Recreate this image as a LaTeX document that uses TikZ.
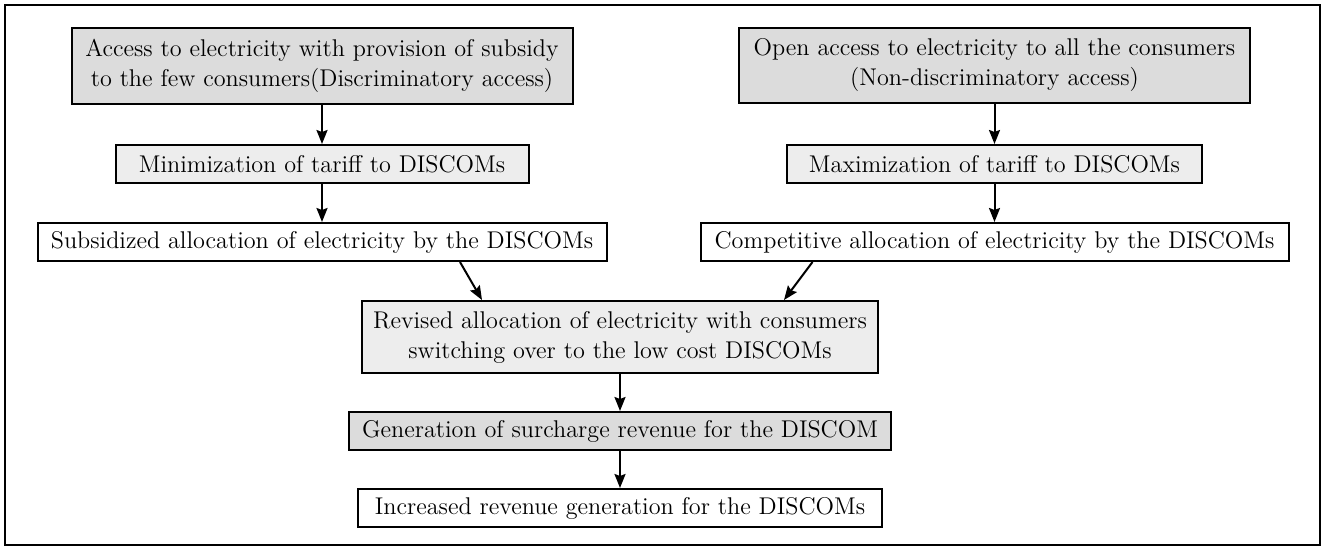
\documentclass[tikz,border=0pt]{standalone}
\usepackage{tikz}
\usetikzlibrary{arrows.meta,positioning,calc}
\definecolor{BoxDark}{HTML}{DCDCDC}
\definecolor{BoxLight}{HTML}{EDEDED}

\begin{document}
\begin{tikzpicture}[x=0.5pt,y=-0.5pt,
    box/.style={draw,line width=1pt,align=center,inner sep=0pt,
      minimum height=19pt,font=\fontsize{12.1}{15}\selectfont},
    dark/.style={box,fill=BoxDark},
    light/.style={box,fill=BoxLight},
    arr/.style={-{Stealth[length=7pt,width=5.5pt,inset=1pt]},line width=1pt}]
    \useasboundingbox (0,0) rectangle (1324,547);
    \draw[line width=1.4pt] (5,5) rectangle (1320,545);

    % left branch
    \node[dark,minimum width=250.5pt,minimum height=38pt] (acc) at (322,66)
      {Access to electricity with provision of subsidy\\
       to the few consumers(Discriminatory access)};
    \node[light,minimum width=206.5pt] (mintar) at (322,164)
      {Minimization of tariff to DISCOMs};
    \node[box,fill=white,minimum width=284.5pt] (subal) at (322,242)
      {Subsidized allocation of electricity by the DISCOMs};

    % right branch
    \node[dark,minimum width=255.5pt,minimum height=37.5pt] (open) at (994.5,65.5)
      {Open access to electricity to all the consumers\\
       (Non-discriminatory access)};
    \node[light,minimum width=207.5pt] (maxtar) at (994.5,164)
      {Maximization of tariff to DISCOMs};
    \node[box,fill=white,minimum width=294pt] (compal) at (994.5,242)
      {Competitive allocation of electricity by the DISCOMs};

    % merged chain
    \node[light,minimum width=258pt,minimum height=36pt] (rev) at (620,337)
      {Revised allocation of electricity with consumers\\
       switching over to the low cost DISCOMs};
    \node[dark,minimum width=271pt] (gen) at (620,431)
      {Generation of surcharge revenue for the DISCOM};
    \node[box,fill=white,minimum width=262pt] (inc) at (620,508)
      {Increased revenue generation for the DISCOMs};

    \draw[arr] (acc) -- (mintar);
    \draw[arr] (mintar) -- (subal);
    \draw[arr] (open) -- (maxtar);
    \draw[arr] (maxtar) -- (compal);
    \draw[arr] ([xshift=69pt]subal.south) -- ([xshift=-69pt]rev.north);
    \draw[arr] ([xshift=-91pt]compal.south) -- ([xshift=82pt]rev.north);
    \draw[arr] (rev) -- (gen);
    \draw[arr] (gen) -- (inc);
\end{tikzpicture}
\end{document}
